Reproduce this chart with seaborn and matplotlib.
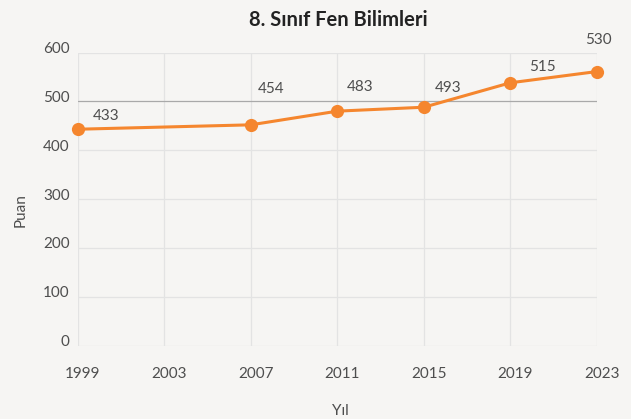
import numpy as np
import pandas as pd
import matplotlib
matplotlib.use("Agg")
import matplotlib.pyplot as plt
import matplotlib.transforms as mtransforms
import seaborn as sns

# veriler
yillar = [1999, 2007, 2011, 2015, 2019, 2023]
puan = [443, 452, 480, 488, 538, 561]          # noktalarin grafikteki konumu
etiketler = ["433", "454", "483", "493", "515", "530"]
x_ticks = [1999, 2003, 2007, 2011, 2015, 2019, 2023]
y_ticks = [0, 100, 200, 300, 400, 500, 600]

# etiketlerin noktaya gore kaymasi (piksel)
etiket_kayma = [(28, 13), (20, 36), (23, 24), (24, 19), (32, 16), (2, 32)]

bg = "#f6f5f3"
turuncu = "#f5862e"
yazi = "#4e4e4e"

sns.set_theme(style="white")
plt.rcParams["font.family"] = ["Lato", "DejaVu Sans"]

df = pd.DataFrame({"Yil": yillar, "Puan": puan})

fig = plt.figure(figsize=(6.31, 4.19), dpi=100, facecolor=bg)
ax = fig.add_axes([0.1236, 0.1749, 0.8221, 0.6998])
ax.set_facecolor(bg)

ax.set_xlim(1999, 2023)
ax.set_ylim(0, 600)
ax.set_xticks(x_ticks)
ax.set_yticks(y_ticks)

# izgara
for xt in x_ticks:
    ax.axvline(xt, color="#e3e3e3", lw=0.9, zorder=0)
for yt in y_ticks:
    ax.axhline(yt, color="#a9a9a9" if yt == 500 else "#e3e3e3", lw=0.9, zorder=0)

sns.lineplot(data=df, x="Yil", y="Puan", ax=ax, color=turuncu, lw=2.2,
             marker="o", markersize=9.5, markeredgewidth=0, clip_on=False, zorder=3)

for x, y, t, (dx, dy) in zip(yillar, puan, etiketler, etiket_kayma):
    ax.annotate(t, (x, y), xytext=(dx, dy), textcoords="offset pixels",
                ha="center", va="center", fontsize=11, color=yazi,
                annotation_clip=False)

for s in ax.spines.values():
    s.set_visible(False)

ax.tick_params(axis="both", length=0, labelsize=11, labelcolor=yazi)
ax.tick_params(axis="x", pad=15)
ax.tick_params(axis="y", pad=6)
for lbl in ax.get_yticklabels():
    lbl.set_transform(lbl.get_transform() + mtransforms.ScaledTranslation(0, 5 / 100, fig.dpi_scale_trans))
for lbl in ax.get_xticklabels():
    lbl.set_transform(lbl.get_transform() + mtransforms.ScaledTranslation(5 / 100, 0, fig.dpi_scale_trans))

ax.set_xlabel("Yıl", fontsize=11, color=yazi)
ax.set_ylabel("Puan", fontsize=11, color=yazi)
ax.xaxis.set_label_coords(0.505, -0.20)
ax.yaxis.set_label_coords(-0.098, 0.463)

fig.text(0.536, 0.952, "8. Sınıf Fen Bilimleri", ha="center", va="center",
         fontsize=14.5, fontweight="bold", color="#222222")

fig.savefig("out.png", dpi=100, facecolor=bg)
